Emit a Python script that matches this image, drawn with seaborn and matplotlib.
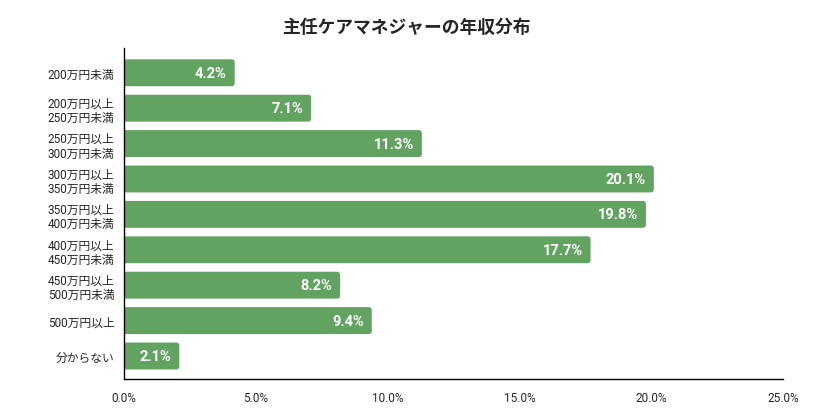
import matplotlib
matplotlib.use("Agg")
import matplotlib.pyplot as plt
import seaborn as sns
import pandas as pd
from matplotlib.patches import FancyBboxPatch

# データ
categories = ['200万円未満', '200万円以上\n250万円未満', '250万円以上\n300万円未満',
              '300万円以上\n350万円未満', '350万円以上\n400万円未満', '400万円以上\n450万円未満',
              '450万円以上\n500万円未満', '500万円以上', '分からない']
values = [4.2, 7.1, 11.3, 20.1, 19.8, 17.7, 8.2, 9.4, 2.1]
xticks = [0, 5, 10, 15, 20, 25]

sns.set_style('white')
plt.rcParams['font.family'] = ['Roboto', 'Noto Sans CJK JP', 'DejaVu Sans']

df = pd.DataFrame({'cat': categories, 'val': values})
bar_color = '#62a362'

fig = plt.figure(figsize=(8.13, 4.10), dpi=100)
ax = fig.add_axes([124/813, 1-380/410, (783-124)/813, (380-49)/410])
sns.barplot(data=df, x='val', y='cat', color=bar_color, width=0.76, ax=ax, saturation=1)

# 右端だけ角丸にする (左側は軸の外へはみ出させてクリップ)
for p in list(ax.patches):
    y0, h, w = p.get_y(), p.get_height(), p.get_width()
    p.remove()
    rb = FancyBboxPatch((-1, y0), w + 1, h, boxstyle='round,pad=0,rounding_size=0.12',
                        mutation_aspect=0.75, facecolor=bar_color, edgecolor='none',
                        clip_on=True)
    ax.add_patch(rb)
    rb.set_clip_path(ax.patch)

for i, v in enumerate(values):
    ax.text(v - 0.3, i, f'{v:.1f}%', ha='right', va='center', color='white',
            fontsize=10.5, fontweight='bold')

ax.set_xlim(0, 25)
ax.set_ylim(8.65, -0.7)
ax.set_xticks(xticks)
ax.set_xticklabels([f'{t:.1f}%' for t in xticks], fontsize=8.5)
ax.tick_params(axis='y', labelsize=8.5, length=0, pad=7)
ax.tick_params(axis='x', length=0, pad=9)
for lbl in ax.get_yticklabels():
    lbl.set_linespacing(1.15)
ax.set_xlabel('')
ax.set_ylabel('')
sns.despine(ax=ax)
for s in ['left', 'bottom']:
    ax.spines[s].set_color('black')
    ax.spines[s].set_linewidth(1)

fig.text(0.5, 1-28/410, '主任ケアマネジャーの年収分布', ha='center', va='center',
         fontsize=12.8, fontweight='bold')

fig.savefig('out.png', dpi=100)
